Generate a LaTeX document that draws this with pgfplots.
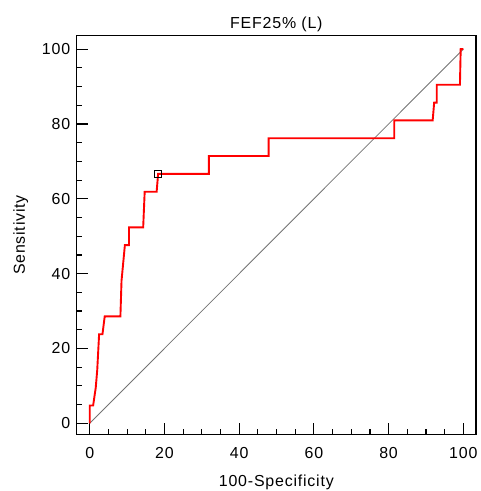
\documentclass[border=0pt]{standalone}
\usepackage{pgfplots}
\pgfplotsset{compat=1.18}
\usepackage{fontspec}
\setmainfont{Liberation Sans}[LetterSpace=5]
\begin{document}
\fontsize{16}{19}\selectfont
\begin{tikzpicture}
\useasboundingbox (-76.7bp,-56.5bp) rectangle (404.3bp,434.5bp);
\begin{axis}[
  at={(0,0)}, anchor=south west,
  scale only axis,
  width=399.3bp, height=398.8bp,
  xmin=-3.5, xmax=103.4, ymin=-3, ymax=103.6,
  xtick={0,20,...,100}, ytick={0,20,...,100},
  tick align=inside,
  xtick pos=left, ytick pos=left,
  major tick length=11bp,
  tick style={black, line width=1.2bp},
  axis line style={black, line width=1.3bp},
  /pgf/number format/assume math mode=true,
  ticklabel style={font=\fontsize{16}{19}\selectfont},
  xticklabel style={yshift=-7bp},
  yticklabel style={xshift=-1bp},
  title={FEF25\% (L)},
  title style={font=\fontsize{16}{19}\selectfont, yshift=-8bp},
  xlabel={100-Specificity},
  ylabel={Sensitivity},
  label style={font=\fontsize{16}{19}\selectfont},
  xlabel style={yshift=-6bp},
  ylabel style={yshift=3bp},
  clip=false,
]
% tick marks (inward, bottom and left)
\pgfplotsinvokeforeach{0,20,40,60,80,100}{
  \addplot[black, line width=1.2bp, forget plot] coordinates {(#1,-3) (#1,-0.05)};
  \addplot[black, line width=1.2bp, forget plot] coordinates {(-3.5,#1) (-0.55,#1)};
}
\pgfplotsinvokeforeach{5,10,15,25,30,35,45,50,55,65,70,75,85,90,95}{
  \addplot[black, line width=1.2bp, forget plot] coordinates {(#1,-3) (#1,-1.66)};
  \addplot[black, line width=1.2bp, forget plot] coordinates {(-3.5,#1) (-2.16,#1)};
}
\addplot[black!55, line width=0.8bp] coordinates {(0,0) (100,100)};
\addplot[red, line width=1.9bp, line join=miter] coordinates {
(0,0)
(0,4.76)
(0.9,4.76)
(1.6,9.52)
(2.0,14.29)
(2.5,23.81)
(3.4,23.81)
(4.0,28.57)
(8.2,28.57)
(8.5,38.10)
(9.4,47.62)
(10.5,47.62)
(10.5,52.38)
(14.3,52.38)
(14.7,61.90)
(17.9,61.90)
(18.3,66.67)
(31.9,66.67)
(31.9,71.43)
(47.9,71.43)
(47.9,76.19)
(81.5,76.19)
(81.5,80.95)
(91.8,80.95)
(92.2,85.71)
(92.9,85.71)
(92.9,90.48)
(99.1,90.48)
(99.3,100)
(100,100)
};
\addplot[black, only marks, mark=square, mark size=3.8bp, mark options={fill=white, line width=1.1bp}] coordinates {(18.3,66.67)};
\end{axis}
\end{tikzpicture}
\end{document}
